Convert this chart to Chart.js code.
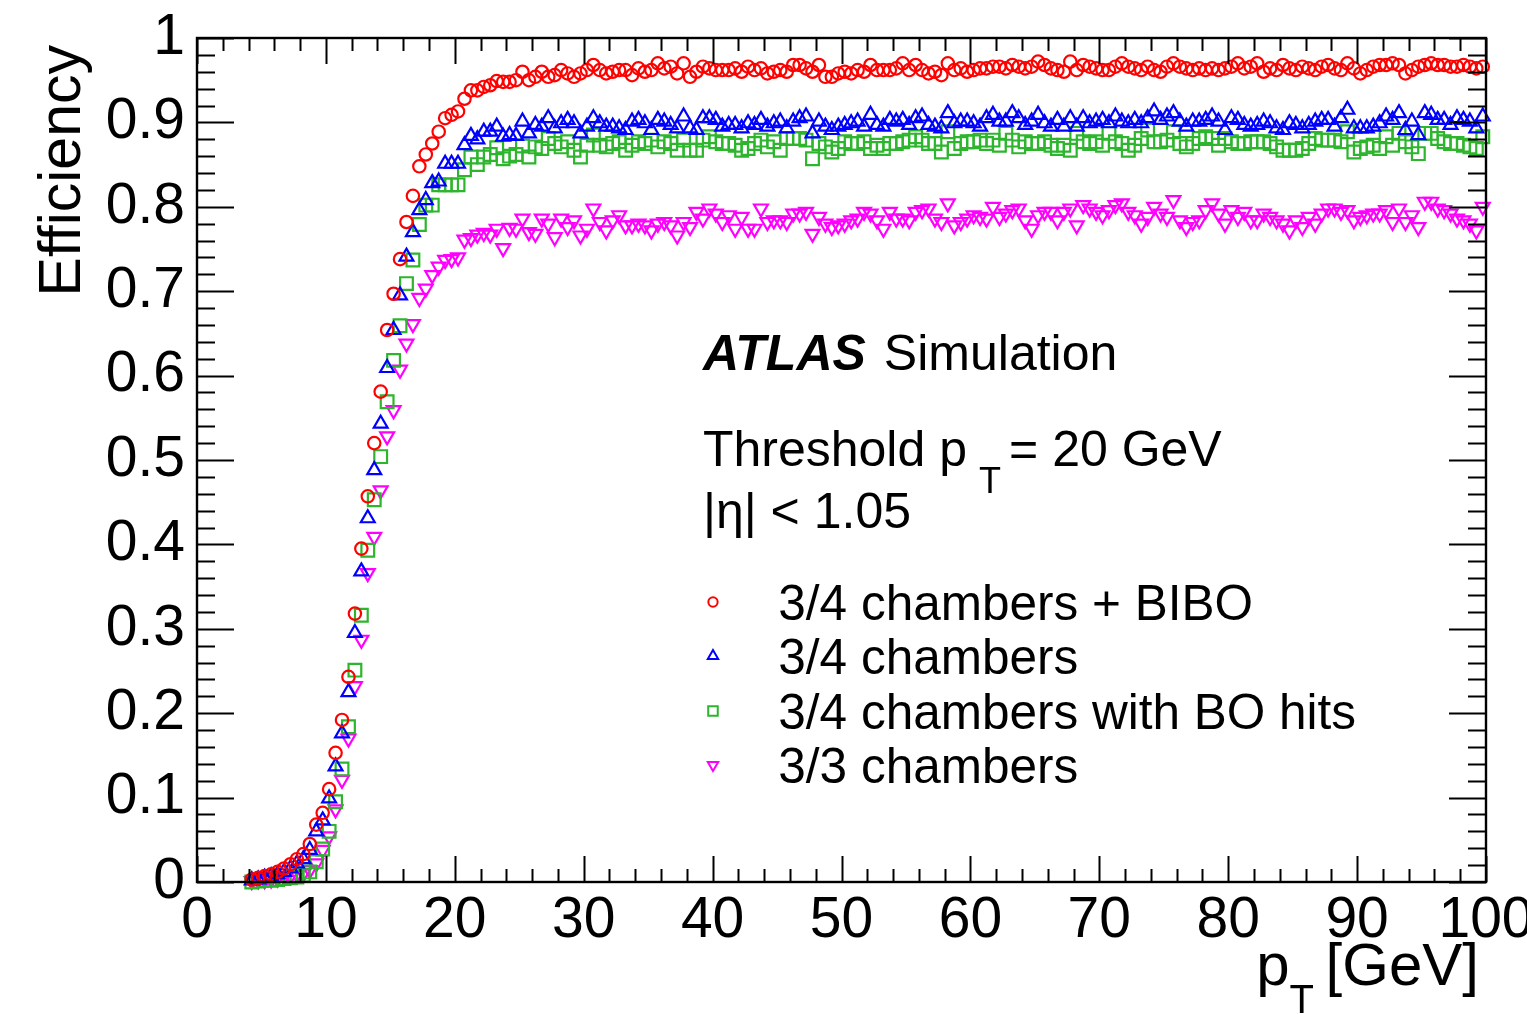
<!DOCTYPE html>
<html>
<head>
<meta charset="utf-8">
<script src="https://cdn.jsdelivr.net/npm/chart.js@4.4.1/dist/chart.umd.min.js"></script>
<style>
html,body{margin:0;padding:0;background:#fff;overflow:hidden;}
#wrap{width:1527px;height:1014px;position:relative;}
</style>
</head>
<body>
<div id="wrap"><canvas id="c" width="1527" height="1014"></canvas></div>
<script>
// ---------------- DATA ----------------
// bin centres, p_T [GeV]
const ptBins = [
 4.25,4.75,5.25,5.75,6.25,6.75,7.25,7.75,8.25,8.75,9.25,9.75,
 10.25,10.75,11.25,11.75,12.25,12.75,13.25,13.75,14.25,14.75,
 15.25,15.75,16.25,16.75,17.25,17.75,18.25,18.75,19.25,19.75,
 20.25,20.75,21.25,21.75,22.25,22.75,23.25,23.75,24.25,24.75,
 25.25,25.75,26.25,26.75,27.25,27.75,28.25,28.75,29.25,29.75,
 30.25,30.75,31.25,31.75,32.25,32.75,33.25,33.75,34.25,34.75,
 35.25,35.75,36.25,36.75,37.25,37.75,38.25,38.75,39.25,39.75,
 40.25,40.75,41.25,41.75,42.25,42.75,43.25,43.75,44.25,44.75,
 45.25,45.75,46.25,46.75,47.25,47.75,48.25,48.75,49.25,49.75,
 50.25,50.75,51.25,51.75,52.25,52.75,53.25,53.75,54.25,54.75,
 55.25,55.75,56.25,56.75,57.25,57.75,58.25,58.75,59.25,59.75,
 60.25,60.75,61.25,61.75,62.25,62.75,63.25,63.75,64.25,64.75,
 65.25,65.75,66.25,66.75,67.25,67.75,68.25,68.75,69.25,69.75,
 70.25,70.75,71.25,71.75,72.25,72.75,73.25,73.75,74.25,74.75,
 75.25,75.75,76.25,76.75,77.25,77.75,78.25,78.75,79.25,79.75,
 80.25,80.75,81.25,81.75,82.25,82.75,83.25,83.75,84.25,84.75,
 85.25,85.75,86.25,86.75,87.25,87.75,88.25,88.75,89.25,89.75,
 90.25,90.75,91.25,91.75,92.25,92.75,93.25,93.75,94.25,94.75,
 95.25,95.75,96.25,96.75,97.25,97.75,98.25,98.75,99.25,99.75
];

const effBIBO = [
 0.003,0.005,0.007,0.009,0.012,0.016,0.021,0.027,0.033,0.045,0.068,0.082,
 0.110,0.153,0.192,0.243,0.318,0.395,0.457,0.520,0.581,0.654,0.697,0.738,0.782,0.813,0.848,0.862,0.875,0.889,0.905,0.909,0.913,0.928,0.938,0.938,0.942,0.944,0.949,0.948,0.948,0.950,0.960,
 0.950,0.954,0.960,0.954,0.956, 0.962,0.958,0.954,0.958,0.962, 0.968,0.962,0.958,0.960,0.962, 0.962,0.956,0.964,0.960,0.962,
 0.970,0.964,0.966,0.958,0.970, 0.954,0.960,0.966,0.964,0.962, 0.962,0.962,0.964,0.960,0.966, 0.962,0.964,0.958,0.960,0.962,
 0.960,0.968,0.968,0.964,0.960, 0.968,0.954,
 0.954,0.958,0.960,0.958,0.962, 0.960,0.968,0.962,0.962,0.962, 0.964,0.970,0.962,0.968,0.962, 0.958,0.960,0.956,0.970,0.962,
 0.964,0.960,0.962,0.964,0.964, 0.966,0.966,0.964,0.968,0.966, 0.964,0.966,0.972,0.968,0.964, 0.962,0.960,0.972,0.962,0.968,
 0.966,0.964,0.962,0.962,0.966, 0.970,0.966,0.964,0.962,0.966,
 0.962,0.960,0.966,0.970,0.966, 0.964,0.962,0.964,0.962,0.964, 0.962,0.964,0.966,0.970,0.964, 0.966,0.970,0.960,0.964,0.962,
 0.968,0.964,0.962,0.966,0.964, 0.962,0.966,0.968,0.964,0.962, 0.970,0.964,0.958,0.962,0.966, 0.968,0.968,0.970,0.968,0.958,
 0.962,0.966,0.968,0.970,0.968, 0.968,0.966,0.966,0.968,0.966, 0.964,0.966
];

const eff34 = [
 0.002,0.003,0.005,0.007,0.009,0.012,0.016,0.022,0.027,0.038,0.060,0.073,
 0.099,0.137,0.176,0.225,0.295,0.368,0.431,0.488,0.543,0.609,0.654,0.695,0.741,0.770,0.796,0.808,0.828,0.830,0.851,0.851,0.851,0.873,0.884,0.880,0.889,0.889,0.895,0.883,0.885,0.884,0.901,
 0.887,0.897,0.895,0.905,0.893, 0.899,0.903,0.899,0.887,0.895, 0.905,0.899,0.895,0.895,0.893, 0.891,0.901,0.903,0.899,0.891,
 0.903,0.901,0.897,0.893,0.907, 0.893,0.891,0.905,0.905,0.903, 0.895,0.897,0.897,0.893,0.899, 0.897,0.903,0.895,0.899,0.901,
 0.893,0.901,0.905,0.907,0.887, 0.901,0.895,
 0.891,0.895,0.897,0.899,0.901, 0.895,0.909,0.897,0.895,0.903, 0.901,0.903,0.897,0.905,0.907, 0.897,0.895,0.893,0.911,0.899,
 0.901,0.901,0.899,0.895,0.905, 0.909,0.901,0.901,0.911,0.905, 0.897,0.901,0.909,0.899,0.895, 0.903,0.895,0.905,0.895,0.905,
 0.899,0.901,0.903,0.899,0.907, 0.901,0.899,0.903,0.899,0.905,
 0.913,0.903,0.907,0.911,0.901, 0.895,0.901,0.901,0.903,0.907, 0.901,0.891,0.905,0.903,0.897, 0.895,0.897,0.901,0.899,0.893,
 0.891,0.899,0.897,0.893,0.897, 0.901,0.903,0.903,0.895,0.905, 0.915,0.893,0.893,0.893,0.895, 0.899,0.907,0.903,0.911,0.891,
 0.901,0.885,0.911,0.909,0.903, 0.903,0.897,0.905,0.903,0.901, 0.893,0.907
];

const eff34BO = [
 0.000,0.001,0.002,0.002,0.003,0.004,0.005,0.006,0.008,0.012,0.024,0.039,
 0.060,0.095,0.134,0.184,0.251,0.316,0.393,0.453,0.504,0.569,0.618,0.659,0.709,0.737,0.779,0.802,0.802,0.826,0.826,0.826,0.826,0.844,0.859,0.850,0.859,0.862,0.870,0.857,0.860,0.862,0.872,
 0.859,0.871,0.869,0.881,0.875, 0.871,0.877,0.867,0.859,0.873, 0.885,0.873,0.871,0.875,0.877, 0.867,0.873,0.877,0.875,0.879,
 0.871,0.877,0.875,0.867,0.879, 0.867,0.867,0.879,0.883,0.877, 0.875,0.875,0.873,0.867,0.869, 0.875,0.879,0.871,0.877,0.867,
 0.881,0.881,0.881,0.879,0.857, 0.875,0.871,
 0.865,0.869,0.877,0.875,0.875, 0.877,0.869,0.873,0.869,0.875, 0.875,0.877,0.879,0.883,0.879, 0.875,0.875,0.865,0.889,0.869,
 0.875,0.877,0.877,0.879,0.875, 0.879,0.873,0.887,0.879,0.871, 0.877,0.875,0.875,0.877,0.873, 0.869,0.873,0.867,0.887,0.877,
 0.875,0.877,0.873,0.887,0.877, 0.875,0.867,0.873,0.881,0.891,
 0.877,0.877,0.879,0.889,0.875, 0.871,0.875,0.881,0.883,0.881, 0.873,0.881,0.877,0.875,0.875, 0.877,0.877,0.877,0.875,0.871,
 0.867,0.867,0.867,0.869,0.875, 0.881,0.879,0.879,0.879,0.877, 0.889,0.865,0.869,0.871,0.873, 0.869,0.883,0.873,0.887,0.877,
 0.871,0.863,0.887,0.887,0.881, 0.877,0.875,0.875,0.873,0.871, 0.869,0.883
];

const eff33 = [
 0.001,0.002,0.002,0.003,0.004,0.006,0.007,0.009,0.010,0.014,0.022,0.038,
 0.054,0.086,0.121,0.170,0.232,0.287,0.366,0.409,0.464,0.528,0.559,0.607,0.638,0.661,0.692,0.703,0.719,0.729,0.737,0.738,0.740,0.761,0.763,0.767,0.769,0.767,0.774,0.751,0.775,0.774,0.786,
 0.770,0.768,0.786,0.780,0.764, 0.786,0.776,0.784,0.766,0.774, 0.798,0.782,0.772,0.784,0.790, 0.778,0.778,0.780,0.778,0.772,
 0.780,0.782,0.778,0.766,0.782, 0.776,0.794,0.786,0.798,0.792, 0.782,0.790,0.774,0.788,0.774, 0.774,0.798,0.782,0.784,0.784,
 0.782,0.792,0.792,0.794,0.768, 0.788,0.780,
 0.776,0.778,0.780,0.784,0.786, 0.794,0.792,0.784,0.774,0.794, 0.786,0.786,0.784,0.794,0.796, 0.798,0.786,0.782,0.804,0.778,
 0.782,0.786,0.790,0.788,0.786, 0.800,0.788,0.792,0.796,0.798, 0.784,0.774,0.790,0.794,0.794, 0.784,0.794,0.798,0.778,0.802,
 0.798,0.794,0.790,0.796,0.802, 0.804,0.794,0.790,0.780,0.788,
 0.800,0.792,0.788,0.808,0.784, 0.776,0.782,0.784,0.796,0.804, 0.792,0.780,0.796,0.788,0.794, 0.784,0.784,0.792,0.788,0.784,
 0.780,0.772,0.784,0.776,0.788, 0.780,0.792,0.798,0.798,0.794, 0.796,0.784,0.788,0.790,0.792, 0.792,0.796,0.782,0.798,0.782,
 0.790,0.776,0.806,0.806,0.798, 0.796,0.792,0.786,0.784,0.780, 0.772,0.800
];

const seriesLabels = ['3/4 chambers + BIBO','3/4 chambers','3/4 chambers with BO hits','3/3 chambers'];
const seriesColors = ['#ff0000','#0000ff','#2db52d','#ff00ff'];
const xTickStep = 10, yTickStep = 0.1;
const textLines = {
  atlas: 'ATLAS', sim: 'Simulation',
  thr1: 'Threshold p', thrSub: 'T', thr2: '= 20 GeV',
  eta: '|\u03b7| < 1.05',
  yTitle: 'Efficiency', xTitleP: 'p', xTitleSub: 'T', xTitleRest: '[GeV]'
};

// ---------------- STYLE ----------------
const FONT = '"Liberation Sans", Arial, Helvetica, sans-serif';
const styles = [
  {pointStyle:'circle', radius:6.2, rotation:0},
  {pointStyle:'triangle', radius:8, rotation:0},
  {pointStyle:'rect', radius:9, rotation:0},
  {pointStyle:'triangle', radius:8, rotation:180}
];

function toXY(ys){ return ys.map((v,i)=>({x:ptBins[i], y:v})); }
const allSeries = [effBIBO, eff34, eff34BO, eff33];

const datasets = allSeries.map((arr,k)=>({
  label: seriesLabels[k],
  data: toXY(arr),
  showLine:false,
  pointStyle: styles[k].pointStyle,
  pointRotation: styles[k].rotation,
  pointRadius: styles[k].radius,
  pointHoverRadius: styles[k].radius,
  pointBorderWidth: 2.2,
  pointBorderColor: seriesColors[k],
  borderColor: seriesColors[k],
  pointBackgroundColor: 'rgba(0,0,0,0)',
  backgroundColor: 'rgba(0,0,0,0)',
  clip: false,
  order: k
}));

function drawMarker(ctx, style, x, y, r, color){
  ctx.save();
  ctx.strokeStyle = color; ctx.lineWidth = 2;
  ctx.beginPath();
  if (style.pointStyle === 'circle'){
    ctx.arc(x, y, r, 0, Math.PI*2);
  } else if (style.pointStyle === 'rect'){
    const s = Math.SQRT1_2 * r;
    ctx.rect(x-s, y-s, 2*s, 2*s);
  } else {
    const flip = style.rotation === 180 ? -1 : 1;
    for (let i=0;i<3;i++){
      const a = i*2*Math.PI/3;
      const px = x + Math.sin(a)*r;
      const py = y - flip*Math.cos(a)*r;
      if (i===0) ctx.moveTo(px,py); else ctx.lineTo(px,py);
    }
    ctx.closePath();
  }
  ctx.stroke();
  ctx.restore();
}

const decor = {
  id: 'decor',
  afterDraw(chart){
    const ctx = chart.ctx;
    const {left, top, right, bottom} = chart.chartArea;
    const xs = chart.scales.x, ys = chart.scales.y;
    ctx.save();
    ctx.strokeStyle = '#000';
    ctx.lineWidth = 2.4;
    ctx.strokeRect(left, top, right-left, bottom-top);
    // inward ticks on all four sides
    ctx.lineWidth = 2;
    ctx.beginPath();
    for (let i=0;i<=50;i++){
      const v = i*2;
      const px = Math.round(xs.getPixelForValue(v))+0.5;
      const L = (i%5===0) ? 26 : 13;
      ctx.moveTo(px, bottom); ctx.lineTo(px, bottom-L);
      ctx.moveTo(px, top); ctx.lineTo(px, top+L);
    }
    for (let i=0;i<=50;i++){
      const v = i*0.02;
      const py = Math.round(ys.getPixelForValue(v))+0.5;
      const L = (i%5===0) ? 37 : 18;
      ctx.moveTo(left, py); ctx.lineTo(left+L, py);
      ctx.moveTo(right, py); ctx.lineTo(right-L, py);
    }
    ctx.stroke();

    ctx.fillStyle = '#000';
    ctx.textBaseline = 'alphabetic';
    // ATLAS Simulation
    const ax = xs.getPixelForValue(39.25);
    let by = ys.getPixelForValue(0.607);
    ctx.font = 'italic bold 50px ' + FONT;
    ctx.textAlign = 'left';
    ctx.fillText(textLines.atlas, ax, by);
    const wA = ctx.measureText(textLines.atlas).width;
    ctx.font = '50px ' + FONT;
    ctx.fillText(textLines.sim, ax + wA + 18, by);

    // Threshold line
    by = ys.getPixelForValue(0.493);
    ctx.font = '50px ' + FONT;
    ctx.fillText(textLines.thr1, ax, by);
    const w1 = ctx.measureText(textLines.thr1).width;
    ctx.font = '36px ' + FONT;
    ctx.fillText(textLines.thrSub, ax + w1 + 12, by + 27);
    ctx.font = '50px ' + FONT;
    ctx.fillText(textLines.thr2, xs.getPixelForValue(63.0), by);

    // eta line
    by = ys.getPixelForValue(0.420);
    ctx.fillText(textLines.eta, ax, by);

    // legend
    const legBase = [0.3104, 0.2464, 0.1813, 0.1173];
    const mx = xs.getPixelForValue(40.03), tx = xs.getPixelForValue(45.1);
    chart.data.datasets.forEach((ds, k)=>{
      const yb = ys.getPixelForValue(legBase[k]);
      drawMarker(ctx, styles[k], mx, yb-18, styles[k].radius*0.75, seriesColors[k]);
      ctx.font = '49.5px ' + FONT;
      ctx.fillStyle = '#000';
      ctx.textAlign = 'left';
      ctx.fillText(ds.label, tx, yb);
    });

    // y axis title
    ctx.save();
    ctx.translate(80, top + 7);
    ctx.rotate(-Math.PI/2);
    ctx.font = '59px ' + FONT;
    ctx.textAlign = 'right';
    ctx.fillText(textLines.yTitle, 0, 0);
    ctx.restore();

    // x axis title
    ctx.font = '60px ' + FONT;
    ctx.textAlign = 'right';
    const titleBase = bottom + 103;
    ctx.fillText(textLines.xTitleRest, right - 7, titleBase);
    const wr = ctx.measureText(textLines.xTitleRest).width;
    ctx.font = '40px ' + FONT;
    ctx.textAlign = 'center';
    ctx.fillText(textLines.xTitleSub, right - 7 - wr - 24, titleBase + 28);
    ctx.font = '60px ' + FONT;
    ctx.textAlign = 'right';
    ctx.fillText(textLines.xTitleP, right - 7 - wr - 36, titleBase);
    ctx.restore();
  }
};

new Chart(document.getElementById('c').getContext('2d'), {
  type: 'scatter',
  data: { datasets },
  options: {
    responsive: false,
    animation: false,
    devicePixelRatio: 1,
    events: [],
    layout: { padding: { top: 38, right: 41, left: 0, bottom: 0 } },
    plugins: { legend: { display: false }, tooltip: { enabled: false } },
    scales: {
      x: {
        type: 'linear', min: 0, max: 100,
        afterFit(s){ s.height = 132; s.paddingLeft = 0; s.paddingRight = 0; },
        grid: { display: false, drawTicks: false },
        border: { display: false },
        ticks: { stepSize: xTickStep, padding: 5, color: '#000', maxRotation: 0, autoSkip: false,
                 font: { size: 57, family: FONT } }
      },
      y: {
        type: 'linear', min: 0, max: 1,
        afterFit(s){ s.width = 197; s.paddingTop = 0; s.paddingBottom = 0; },
        grid: { display: false, drawTicks: false },
        border: { display: false },
        ticks: { stepSize: yTickStep, padding: 12, color: '#000', autoSkip: false,
                 font: { size: 57, family: FONT },
                 callback: v => String(Math.round(v*10)/10) }
      }
    }
  },
  plugins: [decor]
});
</script>
</body>
</html>
